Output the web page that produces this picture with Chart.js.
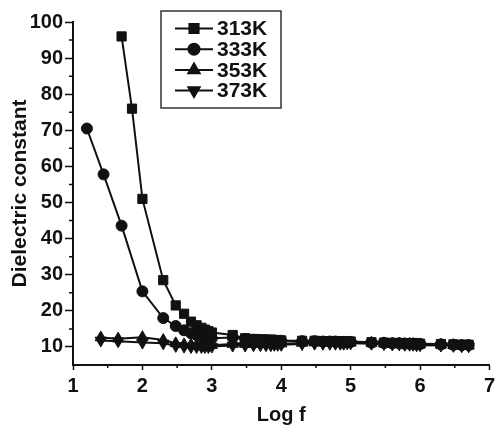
<!DOCTYPE html>
<html>
<head>
<meta charset="utf-8">
<script src="https://cdn.jsdelivr.net/npm/chart.js"></script>
<style>
  html, body { margin: 0; padding: 0; background: #fff; }
  #wrap { width: 497px; height: 426px; }
</style>
</head>
<body>
<div id="wrap"><canvas id="chart" width="497" height="426"></canvas></div>
<script>
// Series labels
const seriesLabels = ['313K', '333K', '353K', '373K'];

// Shared high frequency log f points (3.3 .. 6.7)
const highLogF = [3.3, 3.48, 3.6, 3.7, 3.78, 3.85, 3.9, 3.95, 4.0,
                  4.3, 4.48, 4.6, 4.7, 4.78, 4.85, 4.9, 4.95, 5.0,
                  5.3, 5.48, 5.6, 5.7, 5.78, 5.85, 5.9, 5.95, 6.0,
                  6.3, 6.48, 6.6, 6.7];

// 313K
const logF313 = [1.7, 1.85, 2.0, 2.3, 2.48, 2.6, 2.7, 2.78, 2.85, 2.9, 2.95, 3.0].concat(highLogF);
const eps313 = [96, 76, 51, 28.5, 21.5, 19.2, 17, 16, 15.3, 14.8, 14.4, 14,
                13.3, 12.4, 12.2, 12.1, 12.0, 12.0, 11.9, 11.9, 11.8,
                11.7, 11.7, 11.6, 11.6, 11.6, 11.5, 11.5, 11.5, 11.5,
                11.3, 11.2, 11.1, 11.1, 11.0, 11.0, 11.0, 10.9, 10.9,
                10.8, 10.7, 10.6, 10.6];

// 333K
const logF333 = [1.2, 1.44, 1.7, 2.0, 2.3, 2.48, 2.6, 2.7, 2.78, 2.85, 2.9, 2.95, 3.0].concat(highLogF);
const eps333 = [70.5, 57.8, 43.6, 25.4, 18, 15.8, 14.6, 13.8, 13.3, 13.0, 12.8, 12.6, 12.4,
                12.6, 12.2, 12.0, 11.9, 11.9, 11.8, 11.8, 11.7, 11.7,
                11.6, 11.6, 11.5, 11.5, 11.5, 11.4, 11.4, 11.4, 11.4,
                11.2, 11.1, 11.0, 11.0, 10.9, 10.9, 10.9, 10.8, 10.8,
                10.7, 10.6, 10.5, 10.5];

// 353K and 373K share the same frequencies
const logFHot = [1.4, 1.65, 2.0, 2.3, 2.48, 2.6, 2.7, 2.78, 2.85, 2.9, 2.95, 3.0].concat(highLogF);
const eps353 = [12.6, 12.3, 12.7, 11.9, 11.0, 10.7, 10.6, 10.5, 10.5, 10.5, 10.5, 10.5,
                10.8, 10.8, 10.8, 10.8, 10.9, 10.9, 10.9, 10.9, 10.9,
                11.1, 11.2, 11.2, 11.2, 11.2, 11.2, 11.2, 11.2, 11.2,
                11.1, 11.0, 10.9, 10.9, 10.8, 10.8, 10.8, 10.7, 10.7,
                10.6, 10.5, 10.4, 10.4];
const eps373 = [11.8, 11.6, 11.2, 11.0, 10.3, 10.1, 10.0, 10.0, 10.0, 10.0, 10.0, 10.1,
                10.4, 10.4, 10.5, 10.5, 10.5, 10.5, 10.6, 10.6, 10.6,
                10.8, 10.9, 10.9, 10.9, 10.9, 10.9, 10.9, 11.0, 11.0,
                10.9, 10.8, 10.7, 10.7, 10.6, 10.6, 10.6, 10.5, 10.5,
                10.4, 10.3, 10.2, 10.2];

// Axis ticks
const xTicks = [1, 2, 3, 4, 5, 6, 7];
const xMinor = [1.5, 2.5, 3.5, 4.5, 5.5, 6.5];
const yTicks = [10, 20, 30, 40, 50, 60, 70, 80, 90, 100];
const yMinor = [15, 25, 35, 45, 55, 65, 75, 85, 95];

const FONT = "'Liberation Sans', Arial, sans-serif";
const INK = '#111';

function toPoints(xs, ys) {
    return xs.map((x, i) => ({ x: x, y: ys[i] }));
}

function makeSet(label, xs, ys, style, radius, rotation) {
    return {
        label: label,
        data: toPoints(xs, ys),
        borderColor: INK,
        backgroundColor: INK,
        borderWidth: 2,
        pointStyle: style,
        pointRadius: radius,
        pointRotation: rotation || 0,
        pointBorderWidth: 1,
        pointBackgroundColor: INK,
        pointBorderColor: INK,
        tension: 0
    };
}

// Minor ticks, Chart.js has no built in option for these
const minorTicks = {
    id: 'minorTicks',
    afterDraw(chart) {
        const ctx = chart.ctx;
        const xs = chart.scales.x;
        const ys = chart.scales.y;
        const area = chart.chartArea;
        ctx.save();
        ctx.strokeStyle = INK;
        ctx.lineWidth = 1.5;
        ctx.beginPath();
        xMinor.forEach(v => {
            const px = xs.getPixelForValue(v);
            ctx.moveTo(px, area.bottom);
            ctx.lineTo(px, area.bottom + 3);
        });
        yMinor.forEach(v => {
            const py = ys.getPixelForValue(v);
            ctx.moveTo(area.left, py);
            ctx.lineTo(area.left - 4, py);
        });
        ctx.stroke();
        ctx.restore();
    }
};

// Boxed legend inside the plot
const boxLegend = {
    id: 'boxLegend',
    afterDraw(chart) {
        const ctx = chart.ctx;
        const box = { x: 161, y: 11, w: 120, h: 97 };
        ctx.save();
        ctx.strokeStyle = '#333';
        ctx.lineWidth = 1.5;
        ctx.strokeRect(box.x, box.y, box.w, box.h);
        ctx.font = 'bold 21px ' + FONT;
        ctx.textBaseline = 'middle';
        ctx.fillStyle = INK;
        chart.data.datasets.forEach((ds, i) => {
            const cy = 28.5 + i * 20.7;
            ctx.strokeStyle = INK;
            ctx.lineWidth = 2;
            ctx.beginPath();
            ctx.moveTo(175, cy);
            ctx.lineTo(213, cy);
            ctx.stroke();
            Chart.helpers.drawPoint(ctx, {
                pointStyle: ds.pointStyle,
                radius: ds.pointRadius,
                rotation: ds.pointRotation,
                borderWidth: 1
            }, 194, cy);
            ctx.fill();
            ctx.fillText(ds.label, 217, cy + 1);
        });
        ctx.restore();
    }
};

const ctx = document.getElementById('chart').getContext('2d');
new Chart(ctx, {
    type: 'line',
    data: {
        datasets: [
            makeSet(seriesLabels[0], logF313, eps313, 'rect', 6.5),
            makeSet(seriesLabels[1], logF333, eps333, 'circle', 5.5),
            makeSet(seriesLabels[2], logFHot, eps353, 'triangle', 6.5),
            makeSet(seriesLabels[3], logFHot, eps373, 'triangle', 6.5, 180)
        ]
    },
    options: {
        responsive: false,
        animation: false,
        layout: { padding: { top: 22, right: 1, left: 0, bottom: 0 } },
        plugins: {
            legend: { display: false },
            tooltip: { enabled: false }
        },
        scales: {
            x: {
                type: 'linear',
                min: 1,
                max: 7,
                afterBuildTicks: s => { s.ticks = xTicks.map(v => ({ value: v })); },
                afterFit: s => { s.height = 61; s.paddingRight = 3; },
                ticks: {
                    color: INK,
                    padding: 4,
                    maxRotation: 0,
                    font: { family: FONT, size: 20, weight: 'bold' }
                },
                grid: { drawOnChartArea: false, drawTicks: true, tickLength: 5, color: INK, tickWidth: 1.5 },
                border: { display: true, color: INK, width: 2 },
                title: {
                    display: true,
                    text: 'Log f',
                    color: INK,
                    padding: { top: 0, bottom: 0 },
                    font: { family: FONT, size: 20, weight: 'bold', lineHeight: 1.1 }
                }
            },
            y: {
                type: 'linear',
                min: 5,
                max: 100,
                afterBuildTicks: s => { s.ticks = yTicks.map(v => ({ value: v })); },
                afterFit: s => { s.width = 73; },
                ticks: {
                    color: INK,
                    padding: 2,
                    font: { family: FONT, size: 20, weight: 'bold' }
                },
                grid: { drawOnChartArea: false, drawTicks: true, tickLength: 8, color: INK, tickWidth: 1.5 },
                border: { display: true, color: INK, width: 2 },
                title: {
                    display: true,
                    text: 'Dielectric constant',
                    color: INK,
                    padding: { top: 8, bottom: 0 },
                    font: { family: FONT, size: 21, weight: 'bold', lineHeight: 1.15 }
                }
            }
        }
    },
    plugins: [minorTicks, boxLegend]
});
</script>
</body>
</html>
